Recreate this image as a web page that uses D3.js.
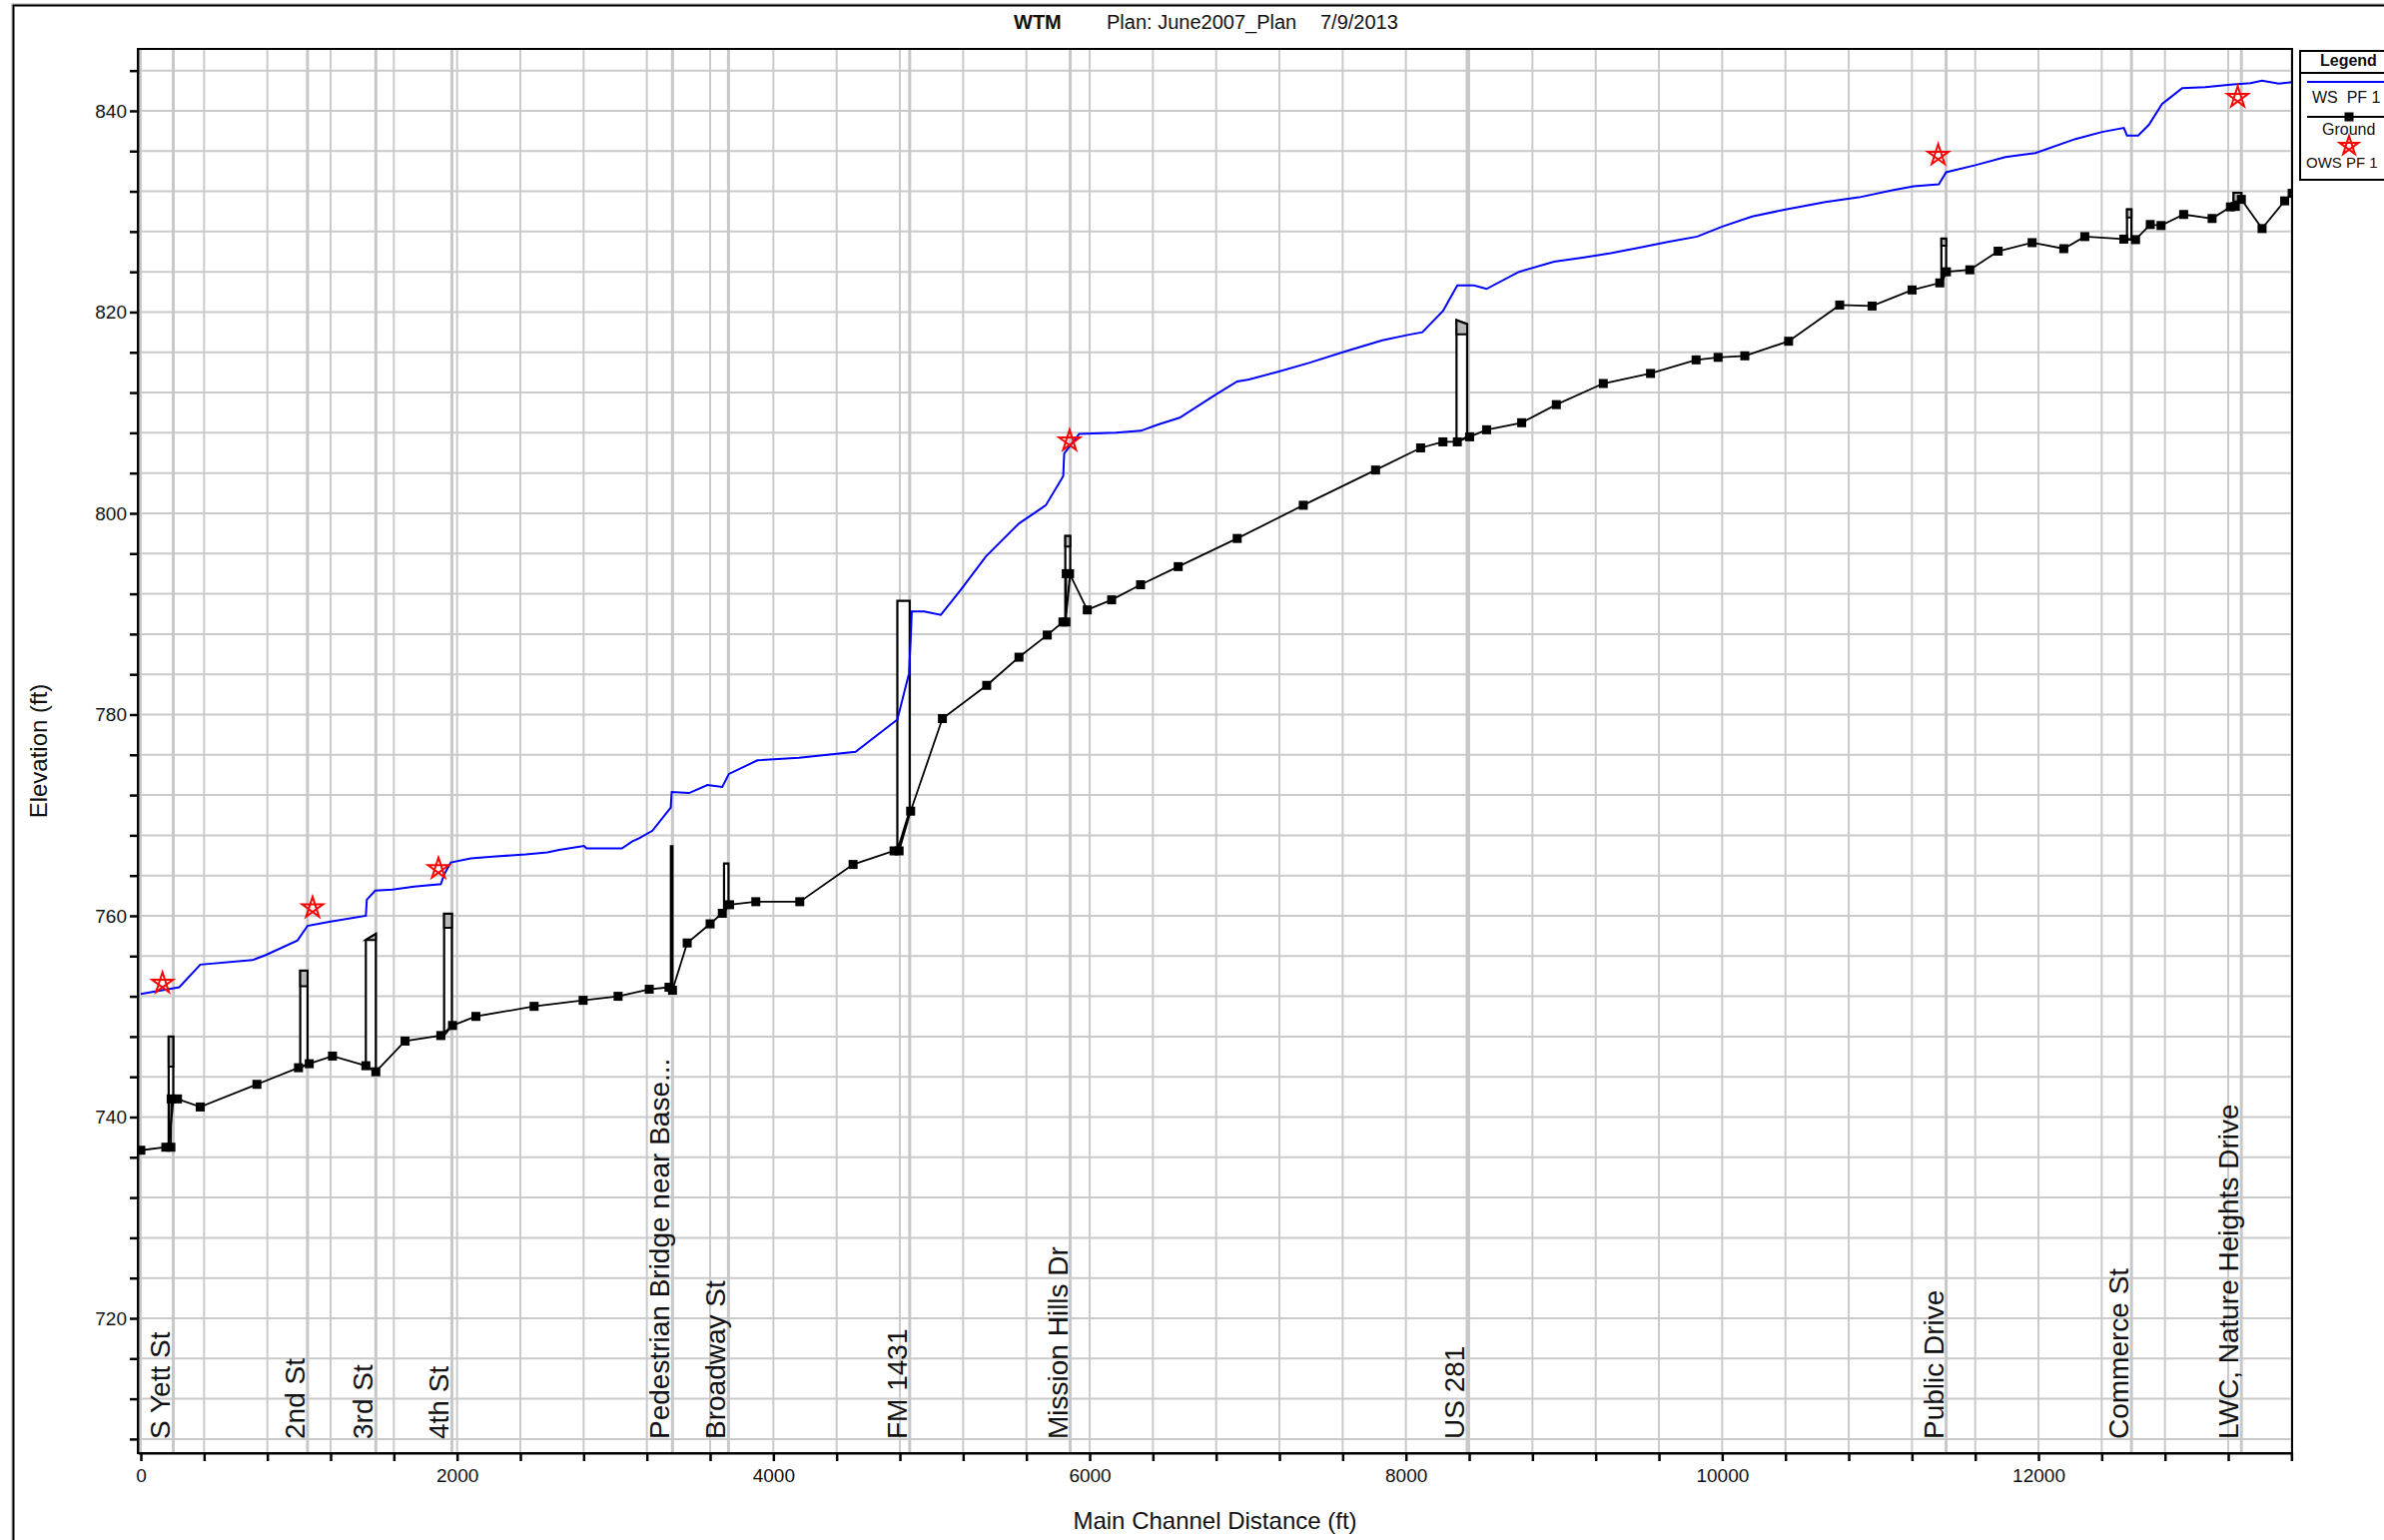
<!DOCTYPE html>
<html>
<head>
<meta charset="utf-8">
<script src="https://cdn.jsdelivr.net/npm/d3@7/dist/d3.min.js"></script>
<style>
  html, body { margin: 0; padding: 0; background: #ffffff; }
  svg { display: block; font-family: "Liberation Sans", Arial, sans-serif; }
</style>
</head>
<body>
<svg id="chart" width="2387" height="1542"></svg>
<script>
// ---------------- DATA ----------------
const titleParts = ["WTM", "Plan: June2007_Plan", "7/9/2013"];
const xAxisTitle = "Main Channel Distance (ft)";
const yAxisTitle = "Elevation (ft)";
const xTickLabels = [0, 2000, 4000, 6000, 8000, 10000, 12000];
const yTickLabels = [720, 740, 760, 780, 800, 820, 840];
const legendLabels = ["WS  PF 1", "Ground", "OWS PF 1"];

// Ground profile [station ft, elevation ft]
const ground = [
  [0, 736.7], [158, 737.0], [190, 737.0], [192, 741.8], [232, 741.8], [376, 741.0],
  [734, 743.25], [997, 744.9], [1065, 745.3], [1212, 746.06], [1423, 745.1], [1486, 744.5],
  [1671, 747.55], [1897, 748.1], [1971, 749.1], [2119, 750.0], [2487, 751.0], [2797, 751.6],
  [3018, 752.0], [3215, 752.7], [3340, 752.9], [3362, 752.6], [3455, 757.3], [3600, 759.2],
  [3677, 760.25], [3723, 761.1], [3889, 761.4], [4167, 761.4], [4504, 765.1], [4763, 766.45],
  [4795, 766.45], [4868, 770.4], [5069, 779.6], [5349, 782.9], [5553, 785.7], [5732, 787.9],
  [5831, 789.2], [5850, 789.2], [5852, 794.0], [5873, 794.0], [5985, 790.4], [6139, 791.4],
  [6322, 792.9], [6560, 794.7], [6933, 797.5], [7351, 800.8], [7808, 804.3], [8093, 806.5],
  [8234, 807.1], [8325, 807.1], [8403, 807.6], [8510, 808.3], [8732, 809.0], [8951, 810.8],
  [9248, 812.9], [9547, 813.9], [9835, 815.25], [9974, 815.5], [10143, 815.65], [10420, 817.1],
  [10743, 820.7], [10948, 820.6], [11201, 822.2], [11376, 822.9], [11418, 824.0], [11566, 824.2],
  [11745, 826.05], [11960, 826.9], [12160, 826.3], [12293, 827.5], [12540, 827.25], [12614, 827.2],
  [12707, 828.7], [12775, 828.6], [12918, 829.7], [13098, 829.3], [13214, 830.45], [13245, 830.5],
  [13283, 831.2], [13414, 828.3], [13557, 831.05], [13604, 831.8]
];

// Water surface WS PF 1 [station, elevation]
const wsPF1 = [
  [0, 752.24], [243, 752.9], [376, 755.15], [706, 755.6], [790, 756.1], [991, 757.55],
  [1054, 759.0], [1191, 759.4], [1423, 760.0], [1429, 761.6], [1482, 762.5], [1591, 762.6],
  [1728, 762.9], [1897, 763.15], [1918, 764.1], [1960, 765.3], [2087, 765.7], [2245, 765.9],
  [2434, 766.1], [2571, 766.3], [2645, 766.55], [2803, 766.95], [2818, 766.7], [3042, 766.7],
  [3109, 767.4], [3151, 767.7], [3235, 768.45], [3351, 770.75], [3357, 772.3], [3467, 772.2],
  [3583, 773.0], [3677, 772.8], [3719, 774.1], [3899, 775.45], [4162, 775.7], [4520, 776.3],
  [4784, 779.5], [4858, 784.1], [4868, 787.4], [4875, 790.25], [4953, 790.25], [5059, 789.9],
  [5185, 792.4], [5343, 795.7], [5554, 799.0], [5723, 800.8], [5833, 803.7], [5839, 805.95],
  [5934, 807.9], [6166, 808.0], [6324, 808.2], [6430, 808.8], [6569, 809.5], [6797, 811.8],
  [6933, 813.1], [7007, 813.3], [7197, 814.1], [7387, 814.95], [7619, 816.1], [7851, 817.2],
  [8019, 817.75], [8104, 818.0], [8234, 820.1], [8325, 822.65], [8430, 822.65], [8510, 822.3],
  [8715, 824.0], [8937, 825.0], [9116, 825.4], [9295, 825.85], [9475, 826.4], [9663, 827.0],
  [9842, 827.5], [10000, 828.5], [10190, 829.5], [10401, 830.2], [10653, 830.95], [10864, 831.4],
  [11075, 832.1], [11212, 832.5], [11370, 832.7], [11416, 833.9], [11601, 834.6], [11791, 835.4],
  [11981, 835.8], [12234, 837.2], [12402, 837.9], [12540, 838.3], [12560, 837.55], [12630, 837.55],
  [12698, 838.6], [12782, 840.7], [12824, 841.2], [12909, 842.25], [13056, 842.35], [13214, 842.6],
  [13341, 842.75], [13414, 843.0], [13520, 842.7], [13604, 842.85]
];

// Observed water surface OWS PF 1 [station, elevation]
const owsPF1 = [
  [137, 753.3], [1086, 760.8], [1882, 764.7], [5873, 807.2], [11366, 835.6], [13260, 841.35]
];

// Bridges: stations, deck top (left/right), low chord, ground at faces
const bridgeNames = ["S Yett St", "2nd St", "3rd St", "4th St", "Pedestrian Bridge near Base...",
  "Broadway St", "FM 1431", "Mission Hills Dr", "US 281", "Public Drive", "Commerce St",
  "LWC, Nature Heights Drive"];
const bridgeX0   = [176, 1008, 1423, 1918, 3352, 3688, 4784, 5846, 8320, 11386, 12560, 13234];
const bridgeX1   = [205, 1054, 1486, 1967, 3362, 3716, 4862, 5877, 8387, 11416, 12588, 13283];
const bridgeTopL = [748.0, 754.55, 757.6, 760.2, 766.9, 765.2, 791.3, 797.75, 819.2, 827.3, 830.2, 831.85];
const bridgeTopR = [748.0, 754.55, 758.2, 760.2, 766.9, 765.2, 791.3, 797.75, 818.8, 827.3, 830.2, 831.85];
const bridgeLow  = [745.0, 753.0, 758.2, 758.8, 752.6, 765.2, 791.3, 796.7, 817.8, 826.6, 829.4, 831.0];
const bridgeBotL = [737.0, 744.9, 745.1, 748.1, 752.6, 760.3, 766.45, 789.2, 807.1, 822.9, 827.25, 830.45];
const bridgeBotR = [741.8, 745.3, 744.5, 749.1, 752.6, 761.1, 770.4, 794.0, 807.6, 824.0, 827.2, 831.2];
const bridgeSolid = [false, false, false, false, true, false, false, false, false, false, false, false];

// ---------------- CHART ----------------
const svg = d3.select("#chart");
const W = 2387, H = 1542;
const plot = { left: 138, right: 2295, top: 49, bottom: 1455 };

const x = d3.scaleLinear().domain([-19, 13604]).range([plot.left, plot.right]);
const y = d3.scaleLinear().domain([706.6, 846.15]).range([plot.bottom, plot.top]);

svg.append("rect").attr("width", W).attr("height", H).attr("fill", "#ffffff");

// outer frame
svg.append("rect").attr("x", 12).attr("y", 4).attr("width", 2420).attr("height", 1600)
  .attr("fill", "none").attr("stroke", "#999").attr("stroke-width", 1);
svg.append("rect").attr("x", 13.5).attr("y", 5.5).attr("width", 2420).attr("height", 1600)
  .attr("fill", "none").attr("stroke", "#000").attr("stroke-width", 2);

// title
const title = svg.append("g").attr("font-size", 20).attr("fill", "#111");
title.append("text").attr("x", 1015).attr("y", 29).attr("font-weight", "bold").text(titleParts[0]);
title.append("text").attr("x", 1108).attr("y", 29).text(titleParts[1]);
title.append("text").attr("x", 1322).attr("y", 29).text(titleParts[2]);

svg.append("defs").append("clipPath").attr("id", "plotclip")
  .append("rect").attr("x", plot.left).attr("y", plot.top)
  .attr("width", plot.right - plot.left).attr("height", plot.bottom - plot.top);

// grid
const xGrid = d3.range(0, 13601, 400);
const yGrid = d3.range(708, 846, 4);
const grid = svg.append("g").attr("stroke", "#cacaca").attr("stroke-width", 2);
grid.selectAll("line.v").data(xGrid).join("line").attr("class", "v")
  .attr("x1", d => x(d)).attr("x2", d => x(d)).attr("y1", plot.top).attr("y2", plot.bottom);
grid.selectAll("line.h").data(yGrid).join("line").attr("class", "h")
  .attr("x1", plot.left).attr("x2", plot.right).attr("y1", d => y(d)).attr("y2", d => y(d));

const g = svg.append("g").attr("clip-path", "url(#plotclip)");

// bridge station lines
g.selectAll("line.bl").data(bridgeX1).join("line").attr("class", "bl")
  .attr("x1", d => x(d)).attr("x2", d => x(d)).attr("y1", plot.top).attr("y2", plot.bottom)
  .attr("stroke", "#c8c8c8").attr("stroke-width", 3);

// bridge labels
const labels = svg.append("g").attr("font-size", 28).attr("fill", "#111");
bridgeNames.forEach((name, i) => {
  const lx = x(bridgeX1[i]) - 3, ly = 1441;
  labels.append("text").attr("transform", `translate(${lx},${ly}) rotate(-90)`)
    .attr("text-anchor", "start").text(name);
});

// bridges
const bridgeIdx = d3.range(bridgeNames.length);
bridgeIdx.forEach(i => {
  const x0 = x(bridgeX0[i]), x1 = x(bridgeX1[i]);
  const outline = [[x0, y(bridgeBotL[i])], [x0, y(bridgeTopL[i])], [x1, y(bridgeTopR[i])], [x1, y(bridgeBotR[i])]];
  g.append("path").attr("d", d3.line()(outline) + "Z")
    .attr("fill", bridgeSolid[i] ? "#000" : "#fff").attr("stroke", "#000").attr("stroke-width", 2.2);
  const lowTop = Math.min(bridgeLow[i], Math.min(bridgeTopL[i], bridgeTopR[i]));
  if (!bridgeSolid[i] && lowTop < Math.max(bridgeTopL[i], bridgeTopR[i]) - 0.2) {
    const deck = [[x0, y(lowTop)], [x0, y(bridgeTopL[i])], [x1, y(bridgeTopR[i])], [x1, y(lowTop)]];
    g.append("path").attr("d", d3.line()(deck) + "Z")
      .attr("fill", "#b8b8b8").attr("stroke", "#000").attr("stroke-width", 2);
  }
});

// ground line
const line = d3.line().x(d => x(d[0])).y(d => y(d[1]));
g.append("path").datum(ground).attr("d", line).attr("fill", "none")
  .attr("stroke", "#000").attr("stroke-width", 1.8);
g.selectAll("rect.gm").data(ground).join("rect").attr("class", "gm")
  .attr("x", d => x(d[0]) - 4.5).attr("y", d => y(d[1]) - 4.5)
  .attr("width", 9).attr("height", 9).attr("fill", "#000");

// WS line
g.append("path").datum(wsPF1).attr("d", line).attr("fill", "none")
  .attr("stroke", "#0000ff").attr("stroke-width", 2);

// stars
function starPath(cx, cy, r) {
  const pts = [0, 2, 4, 1, 3].map(k => {
    const a = (-90 + k * 72) * Math.PI / 180;
    return [cx + r * Math.cos(a), cy + r * Math.sin(a)];
  });
  return d3.line()(pts) + "Z";
}
g.selectAll("path.star").data(owsPF1).join("path").attr("class", "star")
  .attr("d", d => starPath(x(d[0]), y(d[1]), 11))
  .attr("fill", "none").attr("stroke", "#ff0000").attr("stroke-width", 2);

// frame
svg.append("rect").attr("x", plot.left).attr("y", plot.top)
  .attr("width", plot.right - plot.left).attr("height", plot.bottom - plot.top)
  .attr("fill", "none").attr("stroke", "#000").attr("stroke-width", 2);

// axes
const yAxis = d3.axisLeft(y).tickValues(yGrid).tickSize(8).tickSizeOuter(0)
  .tickFormat(d => yTickLabels.includes(d) ? d : "");
const ya = svg.append("g").attr("transform", `translate(${plot.left},0)`).call(yAxis);
ya.select(".domain").attr("stroke", "#000").attr("stroke-width", 2);
ya.selectAll(".tick line").attr("stroke", "#000").attr("stroke-width", 2.5);
ya.selectAll(".tick text").attr("font-size", 19).attr("font-family", "Liberation Sans, Arial, sans-serif")
  .attr("fill", "#111").attr("x", -11);

const xAxis = d3.axisBottom(x).tickValues(xGrid).tickSize(8).tickSizeOuter(0)
  .tickFormat(d => xTickLabels.includes(d) ? d : "");
const xa = svg.append("g").attr("transform", `translate(0,${plot.bottom})`).call(xAxis);
xa.select(".domain").attr("stroke", "#000").attr("stroke-width", 2);
xa.selectAll(".tick line").attr("stroke", "#000").attr("stroke-width", 2.5);
xa.selectAll(".tick text").attr("font-size", 19).attr("font-family", "Liberation Sans, Arial, sans-serif")
  .attr("fill", "#111").attr("y", 16);

// axis titles
svg.append("text").attr("x", (plot.left + plot.right) / 2).attr("y", 1531)
  .attr("text-anchor", "middle").attr("font-size", 24).attr("fill", "#111").text(xAxisTitle);
svg.append("text").attr("transform", `translate(47,${(plot.top + plot.bottom) / 2}) rotate(-90)`)
  .attr("text-anchor", "middle").attr("font-size", 24).attr("fill", "#111").text(yAxisTitle);

// legend
const lg = svg.append("g");
lg.append("rect").attr("x", 2303).attr("y", 51).attr("width", 130).attr("height", 129)
  .attr("fill", "#fff").attr("stroke", "#000").attr("stroke-width", 2);
lg.append("line").attr("x1", 2303).attr("x2", 2433).attr("y1", 73).attr("y2", 73)
  .attr("stroke", "#000").attr("stroke-width", 2);
lg.append("text").attr("x", 2323).attr("y", 66).attr("font-size", 16).attr("font-weight", "bold")
  .attr("fill", "#111").text("Legend");
lg.append("line").attr("x1", 2310).attr("x2", 2400).attr("y1", 82).attr("y2", 82)
  .attr("stroke", "#0000ff").attr("stroke-width", 2);
lg.append("text").attr("x", 2315).attr("y", 103).attr("font-size", 16).attr("fill", "#111")
  .style("white-space", "pre").text(legendLabels[0]);
lg.append("line").attr("x1", 2310).attr("x2", 2400).attr("y1", 117).attr("y2", 117)
  .attr("stroke", "#000").attr("stroke-width", 1.8);
lg.append("rect").attr("x", 2347.5).attr("y", 112.5).attr("width", 9).attr("height", 9).attr("fill", "#000");
lg.append("text").attr("x", 2325).attr("y", 135).attr("font-size", 16).attr("fill", "#111").text(legendLabels[1]);
lg.append("path").attr("d", starPath(2352, 146, 10)).attr("fill", "none")
  .attr("stroke", "#ff0000").attr("stroke-width", 2);
lg.append("text").attr("x", 2309).attr("y", 168).attr("font-size", 15).attr("fill", "#111")
  .text(legendLabels[2]);
</script>
</body>
</html>
